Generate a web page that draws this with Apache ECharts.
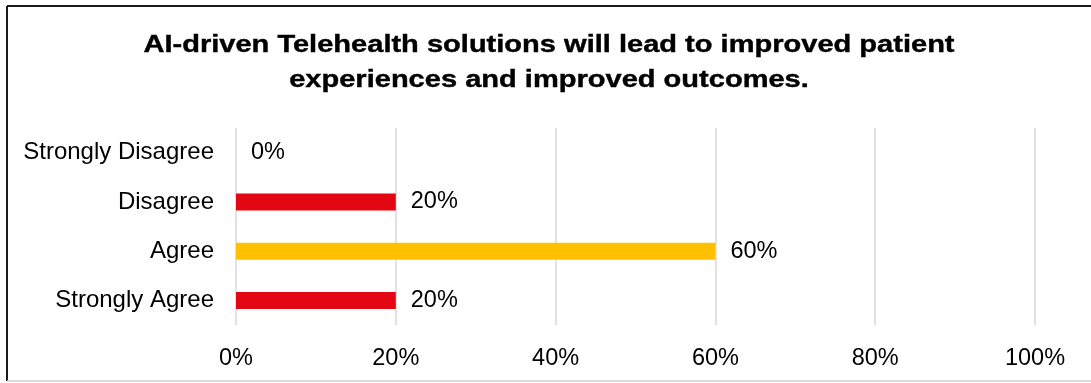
<!DOCTYPE html>
<html>
<head>
<meta charset="utf-8">
<script src="https://cdn.jsdelivr.net/npm/echarts@6/dist/echarts.min.js"></script>
<style>
  html, body { margin: 0; padding: 0; background: #ffffff; }
  #chart { width: 1091px; height: 383px; }
</style>
</head>
<body>
<div id="chart"></div>
<script>
// Survey responses, listed bottom-to-top as the category axis draws them
const categories = ['Strongly Agree', 'Agree', 'Disagree', 'Strongly Disagree'];
const shares = [20, 60, 20, 0];
const barColors = ['#E30613', '#FFC000', '#E30613', '#E30613'];
const tickValues = [0, 20, 40, 60, 80, 100];

const titleLines = [
  'AI-driven Telehealth solutions will lead to improved patient',
  'experiences and improved outcomes.'
];
const fontFamily = 'Liberation Sans, Arial, sans-serif';

const chart = echarts.init(document.getElementById('chart'), null, { renderer: 'canvas' });

// Title drawn as wide bold text, one element per line, centred over the chart
const titleGraphics = titleLines.map((line, i) => ({
  type: 'text',
  x: 549,
  y: 45.5 + i * 35,
  scaleX: 1.21,
  style: {
    text: line,
    font: 'bold 24px ' + fontFamily,
    fill: '#000000',
    stroke: '#000000',
    lineWidth: 0.4,
    textAlign: 'center',
    textVerticalAlign: 'middle'
  }
}));

chart.setOption({
  animation: false,
  backgroundColor: '#ffffff',
  grid: { left: 236, right: 56, top: 128, bottom: 58, containLabel: false },
  xAxis: {
    type: 'value',
    min: tickValues[0],
    max: tickValues[tickValues.length - 1],
    interval: tickValues[1] - tickValues[0],
    axisLine: { show: false },
    axisTick: { show: false },
    splitLine: { show: true, lineStyle: { color: '#d9d9d9', width: 1.5 } },
    axisLabel: {
      formatter: '{value}%',
      margin: 22,
      fontFamily: fontFamily,
      fontSize: 23.5,
      color: '#000000'
    }
  },
  yAxis: {
    type: 'category',
    data: categories,
    axisLine: { show: false },
    axisTick: { show: false },
    axisLabel: {
      margin: 22,
      fontFamily: fontFamily,
      fontSize: 24,
      color: '#000000'
    }
  },
  series: [{
    type: 'bar',
    data: shares.map((v, i) => ({ value: v, itemStyle: { color: barColors[i] } })),
    barWidth: 17,
    label: {
      show: true,
      position: 'right',
      distance: 15,
      formatter: '{c}%',
      fontFamily: fontFamily,
      fontSize: 23.5,
      color: '#000000'
    }
  }],
  graphic: titleGraphics.concat([
    { type: 'line', shape: { x1: 7, y1: 6, x2: 7, y2: 381 }, style: { stroke: '#1a1a1a', lineWidth: 2 } },
    { type: 'line', shape: { x1: 7, y1: 6, x2: 1091, y2: 6 }, style: { stroke: '#1a1a1a', lineWidth: 2 } },
    { type: 'line', shape: { x1: 7, y1: 381, x2: 1091, y2: 381 }, style: { stroke: '#d0d0d0', lineWidth: 1.5 } }
  ])
});
</script>
</body>
</html>
